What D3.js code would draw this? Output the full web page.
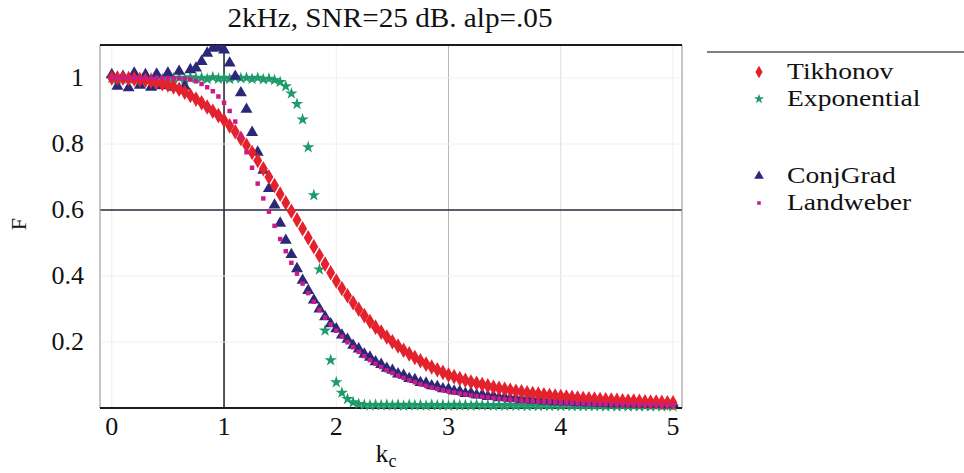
<!DOCTYPE html>
<html><head><meta charset="utf-8">
<script src="https://cdn.jsdelivr.net/npm/d3@7"></script>
<style>
html,body{margin:0;padding:0;background:#fff;}
svg{display:block;}
</style></head>
<body>
<svg id="chart" width="964" height="473"></svg>
<script>
// ---- data ----
const kc = [0,0.05,0.1,0.15,0.2,0.25,0.3,0.35,0.4,0.45,0.5,0.55,0.6,0.65,0.7,0.75,0.8,0.85,0.9,0.95,
1,1.05,1.1,1.15,1.2,1.25,1.3,1.35,1.4,1.45,1.5,1.55,1.6,1.65,1.7,1.75,1.8,1.85,1.9,1.95,
2,2.05,2.1,2.15,2.2,2.25,2.3,2.35,2.4,2.45,2.5,2.55,2.6,2.65,2.7,2.75,2.8,2.85,2.9,2.95,
3,3.05,3.1,3.15,3.2,3.25,3.3,3.35,3.4,3.45,3.5,3.55,3.6,3.65,3.7,3.75,3.8,3.85,3.9,3.95,
4,4.05,4.1,4.15,4.2,4.25,4.3,4.35,4.4,4.45,4.5,4.55,4.6,4.65,4.7,4.75,4.8,4.85,4.9,4.95,5];

const tikhonov = [1.000,1.000,0.999,0.998,0.997,0.995,0.993,0.990,0.987,0.983,
 0.979,0.973,0.966,0.957,0.947,0.936,0.925,0.912,0.899,0.886,
 0.872,0.855,0.837,0.817,0.796,0.774,0.750,0.725,0.700,0.674,
 0.648,0.622,0.596,0.570,0.543,0.516,0.489,0.462,0.436,0.410,
 0.385,0.362,0.340,0.319,0.299,0.280,0.262,0.245,0.230,0.215,
 0.201,0.188,0.175,0.164,0.153,0.143,0.133,0.124,0.116,0.108,
 0.100,0.095,0.089,0.084,0.079,0.075,0.071,0.067,0.063,0.060,
 0.057,0.054,0.051,0.049,0.046,0.044,0.042,0.040,0.038,0.036,
 0.035,0.033,0.032,0.030,0.029,0.028,0.027,0.026,0.025,0.024,
 0.023,0.022,0.021,0.021,0.020,0.019,0.018,0.018,0.017,0.016,
 0.016];

const exponential = [1.000,0.997,1.002,0.998,1.001,0.997,1.002,0.999,1.001,0.997,
 1.002,0.998,1.001,0.997,1.002,0.999,1.001,0.997,1.002,0.998,
 1.001,0.997,1.002,0.999,1.001,0.997,1.001,0.996,0.998,0.994,
 0.988,0.975,0.953,0.921,0.874,0.790,0.645,0.420,0.235,0.145,
 0.078,0.046,0.027,0.017,0.012,0.010,0.008,0.010,0.008,0.010,
 0.008,0.010,0.007,0.010,0.008,0.009,0.007,0.010,0.008,0.009,
 0.007,0.010,0.008,0.009,0.007,0.010,0.008,0.009,0.007,0.009,
 0.007,0.009,0.007,0.008,0.006,0.008,0.006,0.008,0.006,0.008,
 0.006,0.008,0.006,0.007,0.006,0.007,0.006,0.007,0.005,0.007,
 0.005,0.007,0.005,0.006,0.005,0.006,0.005,0.006,0.005,0.006,
 0.005];

const conjGrad = [1.010,0.975,1.005,0.970,1.015,0.978,1.010,0.972,1.012,0.976,
 1.015,0.972,1.020,0.975,1.025,1.030,1.050,1.075,1.090,1.092,
 1.085,1.045,1.005,0.955,0.905,0.835,0.775,0.720,0.665,0.615,
 0.560,0.508,0.465,0.422,0.387,0.356,0.327,0.300,0.276,0.255,
 0.240,0.221,0.208,0.190,0.179,0.163,0.154,0.140,0.132,0.120,
 0.114,0.103,0.099,0.089,0.086,0.077,0.075,0.067,0.065,0.058,
 0.057,0.051,0.050,0.044,0.045,0.039,0.040,0.035,0.036,0.031,
 0.032,0.028,0.029,0.025,0.027,0.023,0.025,0.021,0.023,0.019,
 0.021,0.018,0.020,0.016,0.019,0.015,0.018,0.014,0.017,0.013,
 0.016,0.013,0.015,0.012,0.015,0.011,0.014,0.011,0.013,0.010,
 0.012];

const landweber = [1.000,1.000,1.000,1.000,1.000,1.000,1.000,1.000,1.000,1.000,
 1.000,0.999,0.999,0.998,0.995,0.990,0.982,0.972,0.960,0.944,
 0.925,0.900,0.868,0.825,0.775,0.728,0.680,0.635,0.595,0.552,
 0.512,0.475,0.440,0.407,0.377,0.348,0.322,0.297,0.274,0.253,
 0.234,0.216,0.199,0.184,0.170,0.157,0.145,0.134,0.124,0.114,
 0.106,0.098,0.091,0.084,0.078,0.072,0.067,0.062,0.058,0.054,
 0.050,0.047,0.044,0.041,0.038,0.036,0.034,0.032,0.030,0.028,
 0.026,0.025,0.024,0.022,0.021,0.020,0.019,0.018,0.018,0.017,
 0.016,0.015,0.015,0.014,0.014,0.013,0.013,0.012,0.012,0.012,
 0.011,0.011,0.011,0.010,0.010,0.010,0.010,0.009,0.009,0.009,
 0.009];

const xTicks = [0,1,2,3,4,5];
const yTicks = [0.2,0.4,0.6,0.8,1];
const yTickLabels = ["0.2","0.4","0.6","0.8","1"];
const seriesNames = ["Tikhonov","Exponential","ConjGrad","Landweber"];
const titleText = "2kHz, SNR=25 dB. alp=.05";

// ---- drawing ----
const FONT = "'Liberation Serif', 'Times New Roman', Times, Tinos, 'Nimbus Roman', 'Noto Serif', 'DejaVu Serif', serif";
const svg = d3.select("#chart").style("font-family", FONT);
const x = d3.scaleLinear().domain([-0.105, 5.08]).range([100, 682]);
const y = d3.scaleLinear().domain([0, 1.1]).range([408, 45]);

const styles = {
  Tikhonov:   {color:"#e3222e", sym:d3.symbolDiamond,  size:70},
  Exponential:{color:"#1f9a6a", sym:d3.symbolStar,     size:48},
  ConjGrad:   {color:"#2c2878", sym:d3.symbolTriangle, size:62},
  Landweber:  {color:"#c81c8c", sym:d3.symbolSquare,   size:20}
};
const dataBy = {Tikhonov:tikhonov, Exponential:exponential, ConjGrad:conjGrad, Landweber:landweber};

// grid
const grid = svg.append("g");
grid.selectAll("line.vg").data(xTicks).join("line")
  .attr("x1", d=>x(d)).attr("x2", d=>x(d)).attr("y1", y(1.1)).attr("y2", y(0))
  .attr("stroke", d=> d===1 ? "#2a2a3a" : (d===3 ? "#b8b8b8" : (d===4 ? "#dcdcdc" : "#efefef")))
  .attr("stroke-width", d=> d===1 ? 1.6 : 1);
grid.selectAll("line.hg").data(yTicks).join("line")
  .attr("x1", x(-0.105)).attr("x2", x(5.08)).attr("y1", d=>y(d)).attr("y2", d=>y(d))
  .attr("stroke", d=> d===0.6 ? "#2a2a3a" : "#f0f0f0")
  .attr("stroke-width", d=> d===0.6 ? 1.6 : 1);

// frame
svg.append("line").attr("x1",x(-0.105)).attr("x2",x(-0.105)).attr("y1",y(1.1)).attr("y2",y(0)).attr("stroke","#a0a0a0").attr("stroke-width",1.2);
svg.append("line").attr("x1",x(5.08)).attr("x2",x(5.08)).attr("y1",y(1.1)).attr("y2",y(0)).attr("stroke","#a0a0a0").attr("stroke-width",1.2);
svg.append("line").attr("x1",x(-0.105)).attr("x2",x(5.08)).attr("y1",y(1.1)).attr("y2",y(1.1)).attr("stroke","#1a1a1a").attr("stroke-width",2);
svg.append("line").attr("x1",x(-0.105)).attr("x2",x(5.08)).attr("y1",y(0)).attr("y2",y(0)).attr("stroke","#1a1a1a").attr("stroke-width",2);

// clip
svg.append("clipPath").attr("id","clip").append("rect")
  .attr("x", x(-0.105)).attr("y", y(1.1)).attr("width", x(5.08)-x(-0.105)).attr("height", y(0)-y(1.1)+4);

const plot = svg.append("g").attr("clip-path","url(#clip)");
["Exponential","ConjGrad","Tikhonov","Landweber"].forEach(name=>{
  const st = styles[name];
  const sym = d3.symbol().type(st.sym).size(st.size);
  plot.append("g").selectAll("path").data(kc.map((k,i)=>[k, dataBy[name][i]])).join("path")
    .attr("d", sym)
    .attr("transform", d=>`translate(${x(d[0])},${y(d[1])})`)
    .attr("fill", st.color);
});

// axes labels
svg.append("g").selectAll("text").data(xTicks).join("text")
  .attr("x", d=>x(d)).attr("y", 435).attr("text-anchor","middle")
  .attr("font-size", 26).attr("fill","#111").text(d=>d);
svg.append("g").selectAll("text").data(yTicks).join("text")
  .attr("x", 84).attr("y", d=>y(d)+8).attr("text-anchor","end")
  .attr("font-size", 26).attr("fill","#111").text((d,i)=>yTickLabels[i]);

// title
svg.append("text").attr("x", 390).attr("y", 27).attr("text-anchor","middle")
  .attr("font-size", 27).attr("fill","#111")
  .attr("textLength", 325).attr("lengthAdjust","spacingAndGlyphs").text(titleText);

// x label
const xl = svg.append("text").attr("x", 386).attr("y", 462).attr("text-anchor","middle").attr("font-size", 26).attr("fill","#111");
xl.append("tspan").text("k");
xl.append("tspan").attr("font-size", 18).attr("dy", 5).text("c");

// y label
svg.append("text").attr("transform","translate(26,224) rotate(-90)").attr("text-anchor","middle")
  .attr("font-size", 22).attr("fill","#111").text("F");

// legend
svg.append("line").attr("x1",707).attr("x2",964).attr("y1",52).attr("y2",52).attr("stroke","#555").attr("stroke-width",1.5);
const legRows = [72, 99, 176, 203];
const lg = svg.append("g");
seriesNames.forEach((name,i)=>{
  const st = styles[name];
  lg.append("path").attr("d", d3.symbol().type(st.sym).size(st.size*0.65)())
    .attr("transform", `translate(759,${legRows[i]})`).attr("fill", st.color);
  lg.append("text").attr("transform", `translate(787,${legRows[i]+7}) scale(1.15,1)`)
    .attr("font-size", 24).attr("fill","#111").text(name);
});
</script>
</body></html>
